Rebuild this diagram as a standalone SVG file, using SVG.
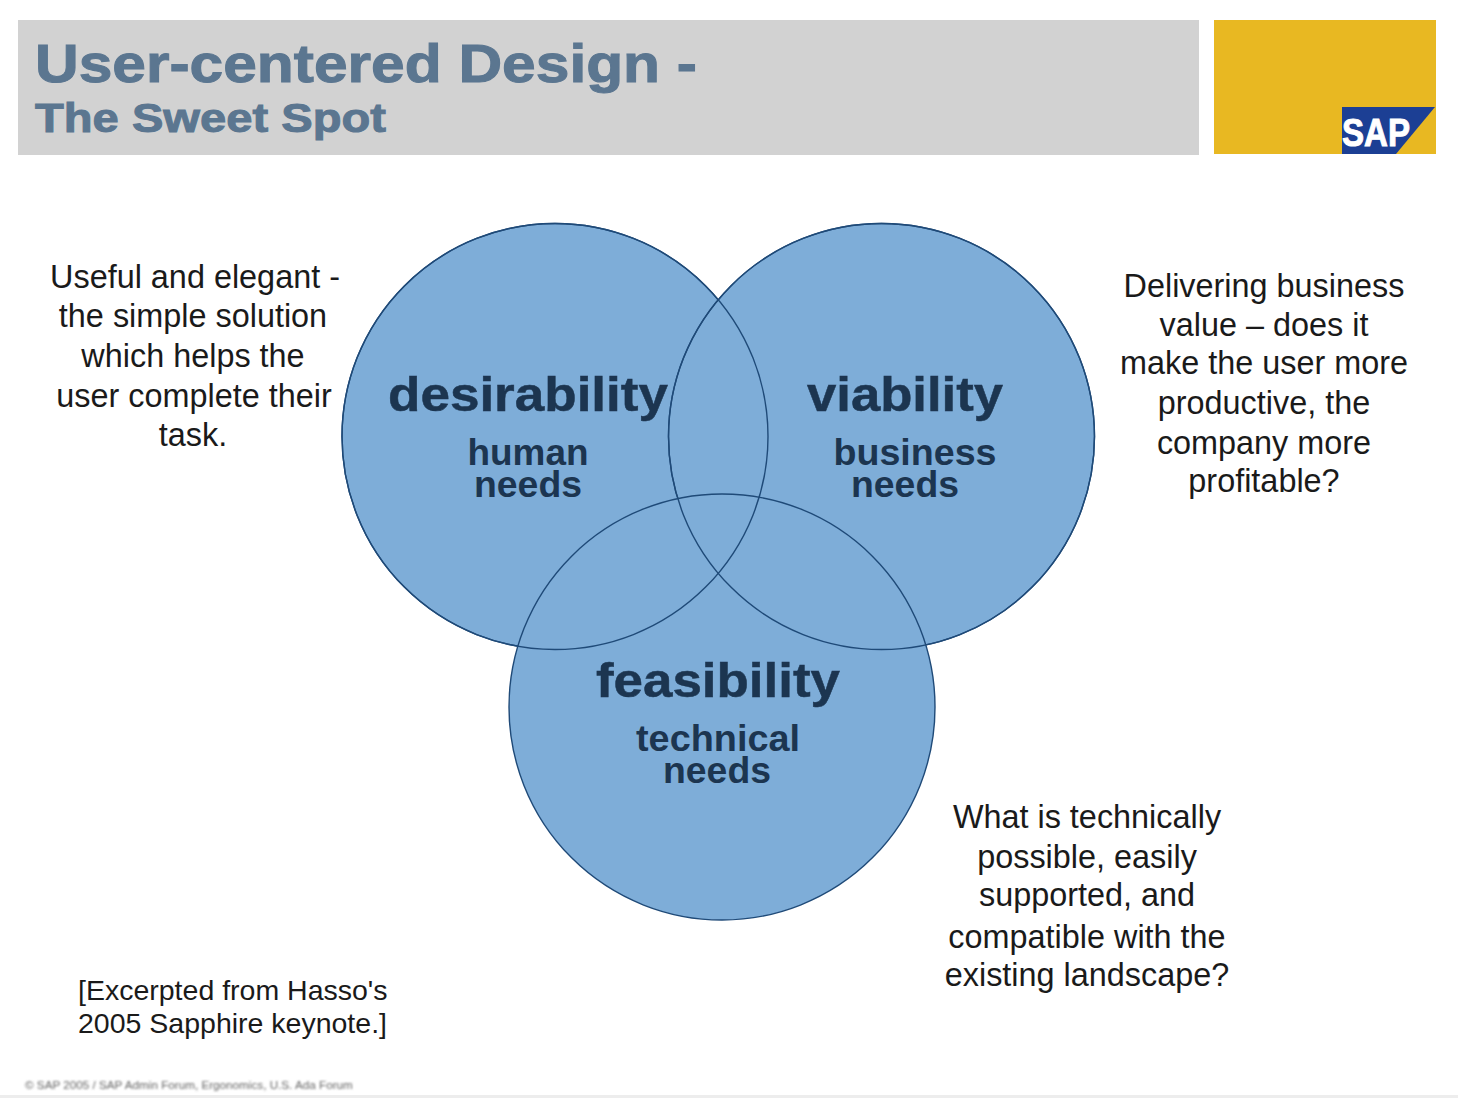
<svg xmlns="http://www.w3.org/2000/svg" width="1458" height="1098" viewBox="0 0 1458 1098">
<defs><filter id="soft" x="-5%" y="-50%" width="110%" height="200%"><feGaussianBlur stdDeviation="0.9"/></filter></defs>
<style>
text{font-family:"Liberation Sans",Arial,sans-serif}
.t{font-weight:700;fill:#5b7690;stroke:#5b7690;stroke-width:1}
.c{fill:#7eadd8;stroke:#1f4a78;stroke-width:1.4}
.o{fill:none;stroke:#1f4a78;stroke-width:1.4}
.h{font-weight:700;font-size:48px;fill:#1c3550;text-anchor:middle;stroke:#1c3550;stroke-width:.5}
.s{font-weight:700;font-size:36px;fill:#1c3550;text-anchor:middle}
.n{font-size:32.4px;fill:#1a1a1a;text-anchor:middle}
</style>
<rect width="1458" height="1098" fill="#fff"/>
<g id="header">
<rect x="18" y="20" width="1181" height="135" fill="#d2d2d2"/>
<text class="t" x="35" y="82" font-size="54" textLength="662" lengthAdjust="spacingAndGlyphs">User-centered Design -</text>
<text class="t" x="35" y="132" font-size="41" textLength="351" lengthAdjust="spacingAndGlyphs">The Sweet Spot</text>
</g>
<g id="logo">
<rect x="1214" y="20" width="222" height="134" fill="#e8b822"/>
<path d="M1342 107H1435L1396 154H1342Z" fill="#1c3f94"/>
<text x="1342" y="146" font-size="38" font-weight="700" fill="#fff" stroke="#fff" stroke-width="1" textLength="68" lengthAdjust="spacingAndGlyphs">SAP</text>
</g>
<g id="desirability-circle"><circle class="c" cx="555" cy="436.5" r="213"/></g>
<g id="viability-circle"><circle class="c" cx="881.5" cy="436.5" r="213"/></g>
<g id="feasibility-circle"><circle class="c" cx="722" cy="707" r="213"/></g>
<g id="overlaps">
<circle class="o" cx="555" cy="436.5" r="213"/>
<circle class="o" cx="881.5" cy="436.5" r="213"/>
</g>
<g id="desirability">
<text class="h" x="528" y="411" textLength="280" lengthAdjust="spacingAndGlyphs">desirability</text>
<text class="s" x="528" y="465" textLength="121" lengthAdjust="spacingAndGlyphs">human</text>
<text class="s" x="528" y="497" textLength="108" lengthAdjust="spacingAndGlyphs">needs</text>
</g>
<g id="viability">
<text class="h" x="905" y="411" textLength="196" lengthAdjust="spacingAndGlyphs">viability</text>
<text class="s" x="915" y="465" textLength="163" lengthAdjust="spacingAndGlyphs">business</text>
<text class="s" x="905" y="497" textLength="108" lengthAdjust="spacingAndGlyphs">needs</text>
</g>
<g id="feasibility">
<text class="h" x="718" y="697" textLength="244" lengthAdjust="spacingAndGlyphs">feasibility</text>
<text class="s" x="718" y="751" textLength="164" lengthAdjust="spacingAndGlyphs">technical</text>
<text class="s" x="717" y="783" textLength="108" lengthAdjust="spacingAndGlyphs">needs</text>
</g>
<g id="note-left">
<text class="n" x="195" y="288">Useful and elegant -</text>
<text class="n" x="193" y="327">the simple solution</text>
<text class="n" x="193" y="367">which helps the</text>
<text class="n" x="194" y="407">user complete their</text>
<text class="n" x="193" y="446">task.</text>
</g>
<g id="note-right">
<text class="n" x="1264" y="297">Delivering business</text>
<text class="n" x="1264" y="336">value – does it</text>
<text class="n" x="1264" y="374">make the user more</text>
<text class="n" x="1264" y="414">productive, the</text>
<text class="n" x="1264" y="454">company more</text>
<text class="n" x="1264" y="492">profitable?</text>
</g>
<g id="note-bottom">
<text class="n" x="1087" y="828">What is technically</text>
<text class="n" x="1087" y="868">possible, easily</text>
<text class="n" x="1087" y="906">supported, and</text>
<text class="n" x="1087" y="948">compatible with the</text>
<text class="n" x="1087" y="986">existing landscape?</text>
</g>
<g id="source">
<text x="78" y="1000" font-size="28.5" fill="#1a1a1a">[Excerpted from Hasso's</text>
<text x="78" y="1033" font-size="28.5" fill="#1a1a1a">2005 Sapphire keynote.]</text>
</g>
<g id="footer">
<text x="25" y="1089" font-size="11.7" fill="#666" filter="url(#soft)">© SAP 2005 / SAP Admin Forum, Ergonomics, U.S. Ada Forum</text>
<rect x="0" y="1095" width="1458" height="3" fill="#ededed"/>
</g>
</svg>
